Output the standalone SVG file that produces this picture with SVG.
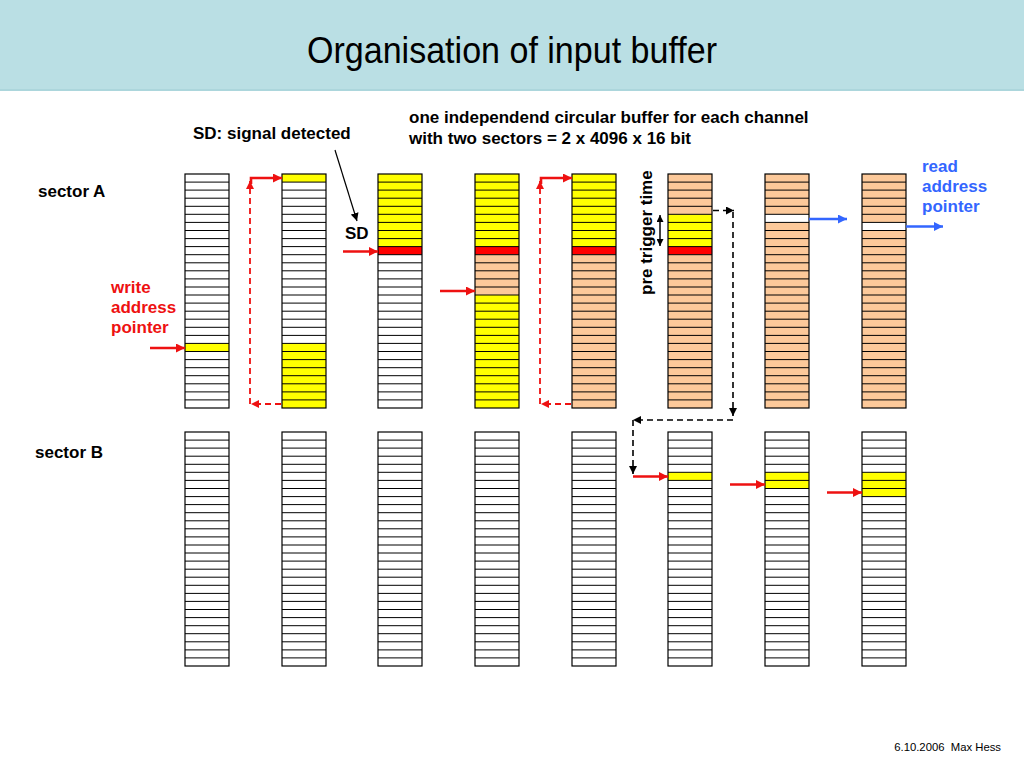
<svg xmlns="http://www.w3.org/2000/svg" xmlns:xlink="http://www.w3.org/1999/xlink" width="1024" height="768" viewBox="0 0 1024 768">
<style>
.t{font-family:"Liberation Sans",Arial,sans-serif;font-weight:bold;font-size:17px;fill:#000}
.red{fill:#ee1111}
.blue{fill:#3366ff}
.y{fill:#ffff00}
.r{fill:#ff0000}
.o{fill:#fcc99a}
.w{fill:#ffffff}
.ra{stroke:#ee1111;stroke-width:2.6;fill:none;marker-end:url(#mr)}
.rd{stroke:#ee1111;stroke-width:1.8;fill:none;stroke-dasharray:6 4;marker-end:url(#mr2)}
.kd{stroke:#000;stroke-width:1.6;fill:none;stroke-dasharray:6 4;marker-end:url(#mk)}
.ba{stroke:#3366ff;stroke-width:2.6;fill:none;marker-end:url(#mb)}
</style>
<defs>
<marker id="mr" viewBox="0 0 10 10" refX="10" refY="5" markerWidth="10" markerHeight="9" markerUnits="userSpaceOnUse" orient="auto"><path d="M0,0L10,5L0,10z" fill="#ee1111"/></marker>
<marker id="mr2" viewBox="0 0 10 10" refX="10" refY="5" markerWidth="9" markerHeight="8" markerUnits="userSpaceOnUse" orient="auto"><path d="M0,0L10,5L0,10z" fill="#ee1111"/></marker>
<marker id="mk" viewBox="0 0 10 10" refX="10" refY="5" markerWidth="8" markerHeight="8" markerUnits="userSpaceOnUse" orient="auto"><path d="M0,0L10,5L0,10z" fill="#000"/></marker>
<marker id="mk2" viewBox="0 0 10 10" refX="10" refY="5" markerWidth="8" markerHeight="7" markerUnits="userSpaceOnUse" orient="auto-start-reverse"><path d="M0,0L10,5L0,10z" fill="#000"/></marker>
<marker id="mb" viewBox="0 0 10 10" refX="10" refY="5" markerWidth="10" markerHeight="9" markerUnits="userSpaceOnUse" orient="auto"><path d="M0,0L10,5L0,10z" fill="#3366ff"/></marker>
<g id="grid">
<path d="M0,8.1H44M0,16.1H44M0,24.2H44M0,32.3H44M0,40.3H44M0,48.4H44M0,56.5H44M0,64.6H44M0,72.6H44M0,80.7H44M0,88.8H44M0,96.8H44M0,104.9H44M0,113H44M0,121H44M0,129.1H44M0,137.2H44M0,145.2H44M0,153.3H44M0,161.4H44M0,169.4H44M0,177.5H44M0,185.6H44M0,193.7H44M0,201.7H44M0,209.8H44M0,217.9H44M0,225.9H44" stroke="#000" stroke-width="1" fill="none"/>
<rect x="0" y="0" width="44" height="234" fill="none" stroke="#000" stroke-width="1.2"/>
</g>
</defs>

<rect x="0" y="0" width="1024" height="768" fill="#fff"/>
<g id="title">
<rect x="0" y="0" width="1024" height="91" fill="#badfe4"/>
<rect x="0" y="89" width="1024" height="2" fill="#acd6dc"/>
<text x="512" y="63" text-anchor="middle" font-family="'Liberation Sans',Arial,sans-serif" font-size="37" textLength="410" lengthAdjust="spacingAndGlyphs">Organisation of input buffer</text>
</g>

<!-- Sector A columns -->
<g id="colA1">
<rect x="185" y="174" width="44" height="234" class="w"/>
<rect x="185" y="343.45" width="44" height="8.07" class="y"/>
<use xlink:href="#grid" href="#grid" x="185" y="174"/>
</g>
<g id="colA2">
<rect x="282" y="174" width="44" height="234" class="w"/>
<rect x="282" y="174" width="44" height="8.07" class="y"/>
<rect x="282" y="343.45" width="44" height="64.55" class="y"/>
<use xlink:href="#grid" href="#grid" x="282" y="174"/>
</g>
<g id="colA3">
<rect x="378" y="174" width="44" height="234" class="w"/>
<rect x="378" y="174" width="44" height="72.62" class="y"/>
<rect x="378" y="246.62" width="44" height="8.07" class="r"/>
<use xlink:href="#grid" href="#grid" x="378" y="174"/>
</g>
<g id="colA4">
<rect x="475" y="174" width="44" height="72.62" class="y"/>
<rect x="475" y="246.62" width="44" height="8.07" class="r"/>
<rect x="475" y="254.69" width="44" height="40.34" class="o"/>
<rect x="475" y="295.03" width="44" height="112.97" class="y"/>
<use xlink:href="#grid" href="#grid" x="475" y="174"/>
</g>
<g id="colA5">
<rect x="572" y="174" width="44" height="72.62" class="y"/>
<rect x="572" y="246.62" width="44" height="8.07" class="r"/>
<rect x="572" y="254.69" width="44" height="153.31" class="o"/>
<use xlink:href="#grid" href="#grid" x="572" y="174"/>
</g>
<g id="colA6">
<rect x="668" y="174" width="44" height="40.34" class="o"/>
<rect x="668" y="214.34" width="44" height="32.28" class="y"/>
<rect x="668" y="246.62" width="44" height="8.07" class="r"/>
<rect x="668" y="254.69" width="44" height="153.31" class="o"/>
<use xlink:href="#grid" href="#grid" x="668" y="174"/>
</g>
<g id="colA7">
<rect x="765" y="174" width="44" height="40.34" class="o"/>
<rect x="765" y="214.34" width="44" height="8.07" class="w"/>
<rect x="765" y="222.41" width="44" height="185.59" class="o"/>
<use xlink:href="#grid" href="#grid" x="765" y="174"/>
</g>
<g id="colA8">
<rect x="862" y="174" width="44" height="48.41" class="o"/>
<rect x="862" y="222.41" width="44" height="8.07" class="w"/>
<rect x="862" y="230.48" width="44" height="177.52" class="o"/>
<use xlink:href="#grid" href="#grid" x="862" y="174"/>
</g>

<!-- Sector B columns -->
<g id="colB1"><rect x="185" y="432" width="44" height="234" class="w"/><use xlink:href="#grid" href="#grid" x="185" y="432"/></g>
<g id="colB2"><rect x="282" y="432" width="44" height="234" class="w"/><use xlink:href="#grid" href="#grid" x="282" y="432"/></g>
<g id="colB3"><rect x="378" y="432" width="44" height="234" class="w"/><use xlink:href="#grid" href="#grid" x="378" y="432"/></g>
<g id="colB4"><rect x="475" y="432" width="44" height="234" class="w"/><use xlink:href="#grid" href="#grid" x="475" y="432"/></g>
<g id="colB5"><rect x="572" y="432" width="44" height="234" class="w"/><use xlink:href="#grid" href="#grid" x="572" y="432"/></g>
<g id="colB6"><rect x="668" y="432" width="44" height="234" class="w"/><rect x="668" y="472.34" width="44" height="8.07" class="y"/><use xlink:href="#grid" href="#grid" x="668" y="432"/></g>
<g id="colB7"><rect x="765" y="432" width="44" height="234" class="w"/><rect x="765" y="472.34" width="44" height="16.14" class="y"/><use xlink:href="#grid" href="#grid" x="765" y="432"/></g>
<g id="colB8"><rect x="862" y="432" width="44" height="234" class="w"/><rect x="862" y="472.34" width="44" height="24.21" class="y"/><use xlink:href="#grid" href="#grid" x="862" y="432"/></g>

<!-- Labels -->
<g id="labels">
<text class="t" x="38" y="197">sector A</text>
<text class="t" x="35" y="458">sector B</text>
<text class="t red" x="111" y="293">write</text>
<text class="t red" x="111" y="313">address</text>
<text class="t red" x="111" y="333">pointer</text>
<text class="t" x="193" y="139">SD: signal detected</text>
<text class="t" x="409" y="123">one independend circular buffer for each channel</text>
<text class="t" x="409" y="144">with two sectors = 2 x 4096 x 16 bit</text>
<text class="t" x="345" y="239">SD</text>
<text class="t blue" x="922" y="172">read</text>
<text class="t blue" x="922" y="192">address</text>
<text class="t blue" x="922" y="212">pointer</text>
<text class="t" transform="translate(652,295) rotate(-90)">pre trigger time</text>
<text x="1001" y="751" text-anchor="end" font-family="'Liberation Sans',Arial,sans-serif" font-size="11.3" style="white-space:pre" xml:space="preserve">6.10.2006  Max Hess</text>
</g>

<!-- Connectors -->
<g id="connectors">
<path class="ra" d="M150,348H185"/>
<path class="ra" d="M343,251.5H378"/>
<path class="ra" d="M440,291H475"/>
<path class="ra" d="M633,476.5H668"/>
<path class="ra" d="M730,484.5H765"/>
<path class="ra" d="M827,492.5H862"/>
<path class="ra" d="M251,184V178H282"/>
<path class="ra" d="M541,184V178H572"/>
<path class="rd" d="M281,404H251"/>
<path class="rd" d="M250,404V181"/>
<path class="rd" d="M571,404H541"/>
<path class="rd" d="M540,404V181"/>
<path class="kd" d="M713,210.5H734"/>
<path class="kd" d="M733,212V416"/>
<path class="kd" d="M733,420H633"/>
<path class="kd" d="M633,420V474"/>
<path class="ba" d="M809,219H847"/>
<path class="ba" d="M906,226.5H943"/>
<path d="M335,150L357,221" stroke="#000" stroke-width="1.2" fill="none" marker-end="url(#mk)"/>
<path d="M660,215V246" stroke="#000" stroke-width="1.5" fill="none" marker-start="url(#mk2)" marker-end="url(#mk2)"/>
</g>
</svg>
